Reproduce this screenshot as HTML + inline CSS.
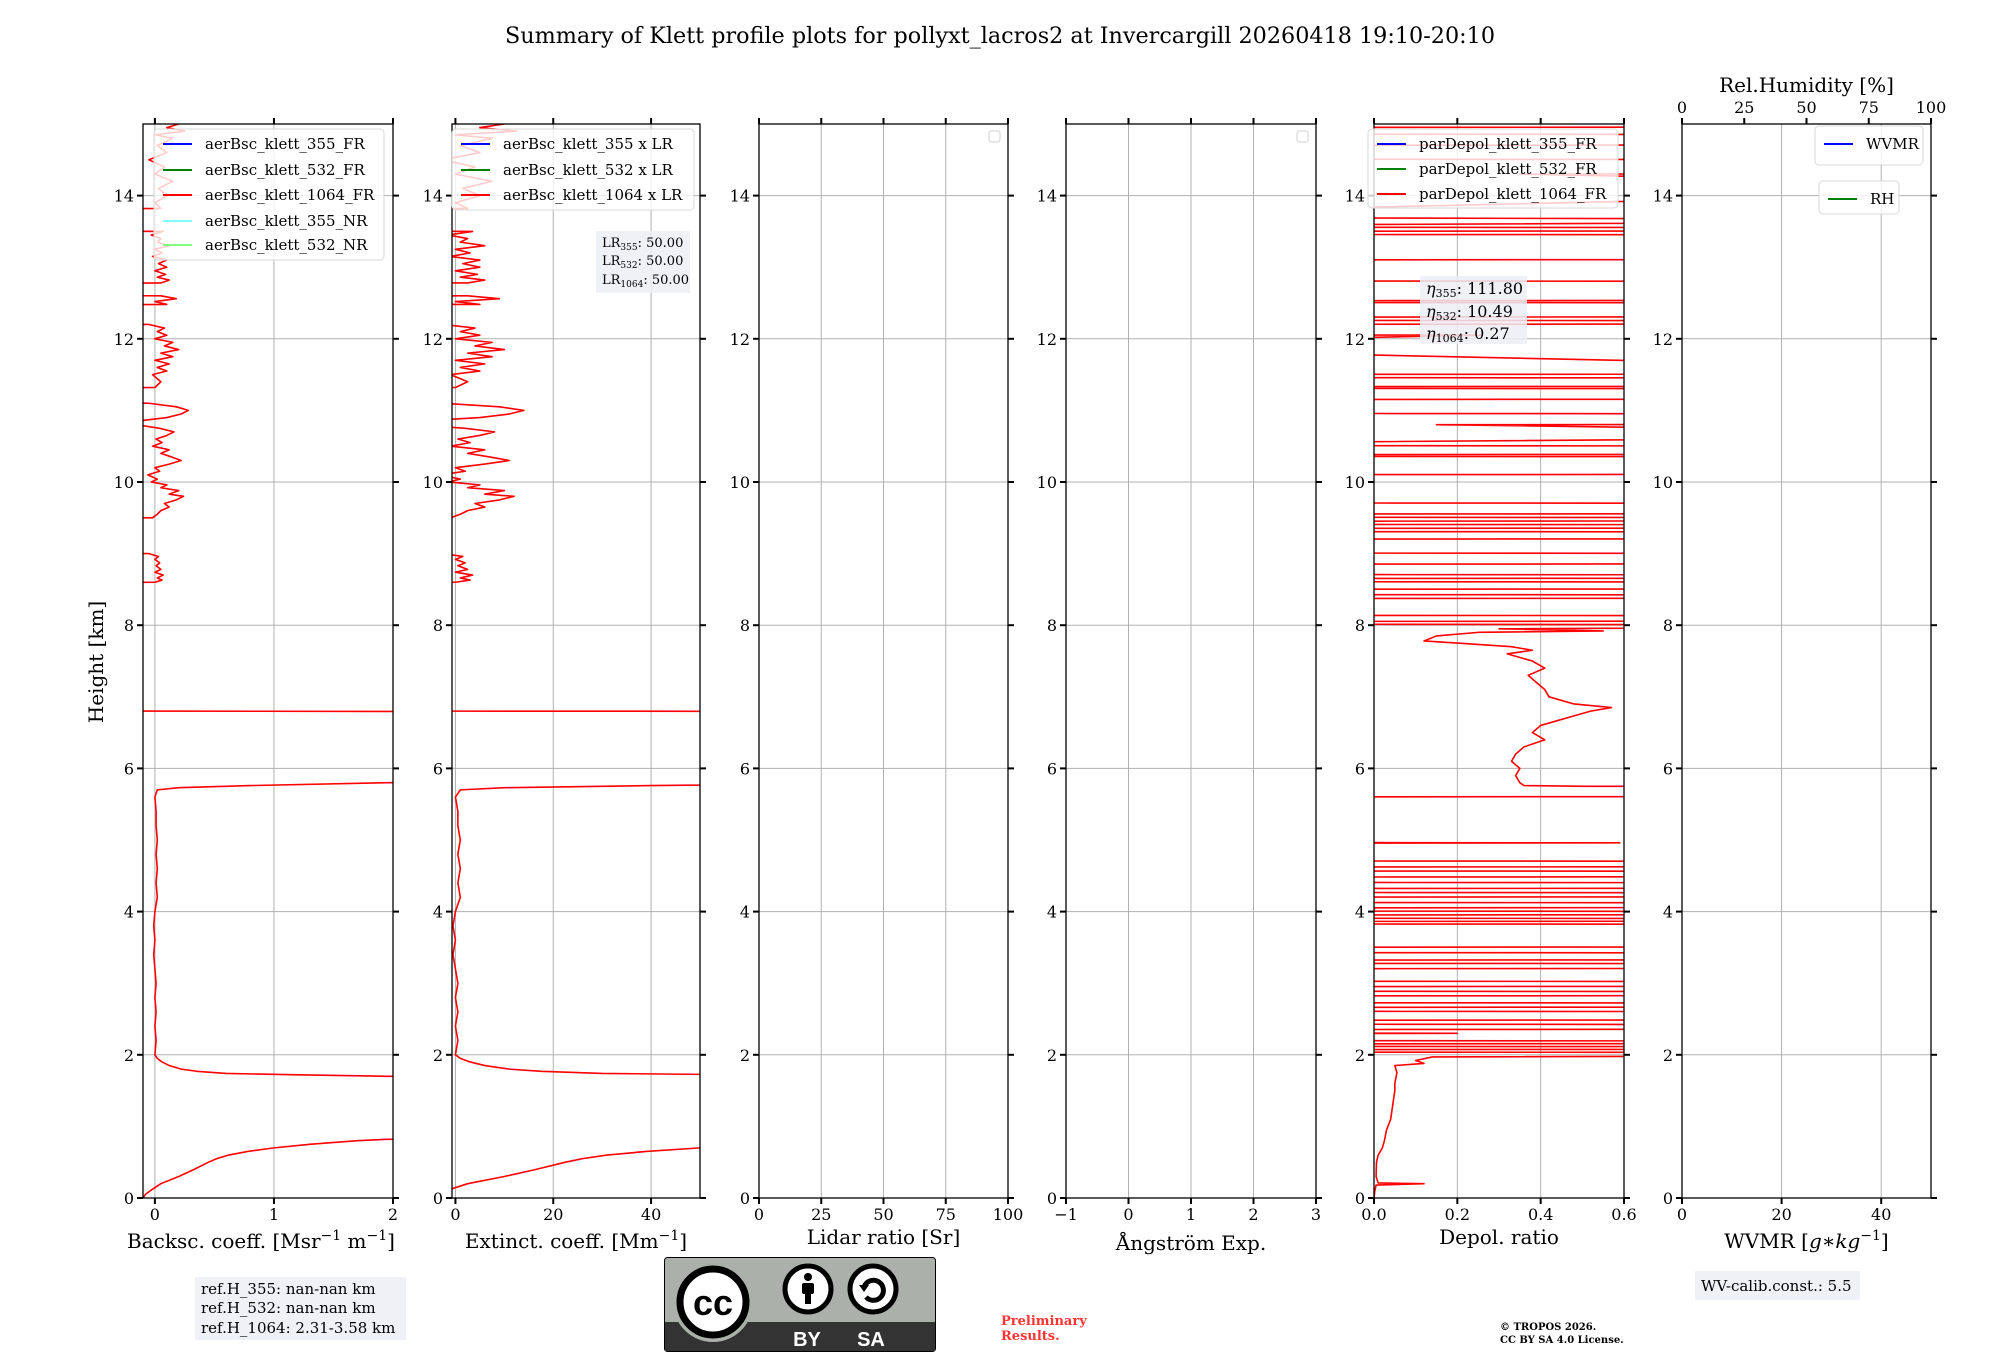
<!DOCTYPE html>
<html><head><meta charset="utf-8"><style>
html,body{margin:0;padding:0;background:#fff}
svg{display:block;font-family:"DejaVu Serif","Liberation Serif",serif}
</style></head><body>
<svg id="fig" width="2000" height="1360" viewBox="0 0 2000 1360" xmlns="http://www.w3.org/2000/svg">
<rect width="2000" height="1360" fill="#fff"/>
<text x="1000" y="43" font-size="22" text-anchor="middle" textLength="990" lengthAdjust="spacingAndGlyphs">Summary of Klett profile plots for pollyxt_lacros2 at Invercargill 20260418 19:10-20:10</text>
<text transform="translate(103,662) rotate(-90)" font-size="20" text-anchor="middle">Height [km]</text>
<g id="plots"></g>
<g id="overlay"></g>
</svg>
<script>
// ---- data ----
const yTicks=[0,2,4,6,8,10,12,14];
const bscHeights=[0,0.05,0.1,0.2,0.3,0.4,0.5,0.55,0.6,0.65,0.7,0.75,0.8,0.82,0.85,1.68,1.7,1.72,1.74,1.77,1.8,1.85,1.9,1.95,2.0,2.2,2.4,2.6,2.8,3.0,3.2,3.4,3.6,3.8,4.0,4.2,4.4,4.6,4.8,5.0,5.2,5.4,5.6,5.7,5.73,5.76,5.8,5.85,6.79,6.81,8.58,8.6,8.63,8.66,8.7,8.74,8.78,8.83,8.87,8.92,8.96,9.0,9.02,9.48,9.5,9.55,9.6,9.65,9.7,9.75,9.8,9.83,9.88,9.92,9.96,10.0,10.04,10.1,10.15,10.2,10.25,10.3,10.35,10.4,10.45,10.5,10.55,10.6,10.65,10.7,10.75,10.8,10.85,10.9,10.95,11.0,11.05,11.1,11.12,11.3,11.32,11.4,11.5,11.55,11.6,11.65,11.7,11.75,11.8,11.85,11.9,11.95,12.0,12.05,12.1,12.15,12.2,12.25,12.45,12.48,12.52,12.56,12.6,12.64,12.75,12.78,12.82,12.86,12.9,12.95,13.0,13.05,13.1,13.15,13.2,13.25,13.3,13.35,13.4,13.45,13.5,13.55,13.8,13.82,13.9,14.0,14.1,14.2,14.3,14.4,14.5,14.6,14.7,14.8,14.85,14.9,14.95,15.0];
const bsc1064=[-0.1,-0.08,-0.04,0.05,0.2,0.33,0.45,0.52,0.62,0.78,1.0,1.3,1.7,1.95,5,5,1.95,1.2,0.6,0.35,0.22,0.12,0.06,0.02,0.0,0.01,0.0,0.01,0.0,0.01,0.0,-0.01,0.0,-0.01,0.0,0.02,0.01,0.02,0.01,0.02,0.01,0.01,0.0,0.02,0.2,0.8,1.95,5,5,-5,-5,0.0,0.06,0.02,0.07,0.0,0.05,0.01,0.04,0.0,0.03,-0.05,-5,-5,-0.02,0.02,0.05,0.12,0.08,0.18,0.24,0.12,0.2,0.05,0.1,-0.03,0.02,-0.06,0.04,0.0,0.12,0.22,0.14,0.05,0.12,-0.02,0.06,0.01,0.1,0.16,0.04,-0.15,-0.15,0.1,0.22,0.28,0.18,-0.05,-5,-5,0.0,0.05,-0.02,0.1,0.02,0.12,0.0,0.15,0.05,0.2,0.08,0.15,0.0,0.1,0.02,0.08,-0.05,-5,-5,0.1,0.0,0.18,0.05,-5,-5,0.05,0.12,0.02,0.09,0.0,0.1,0.03,0.1,-0.02,0.06,0.0,0.12,0.02,0.05,-0.03,0.07,-5,-5,0.05,0.0,0.1,0.03,0.15,0.0,0.08,-0.05,0.1,0.02,0.15,0.0,0.25,0.1,0.2];
const lidarRatio=[50,50,50];
const depolHeights=[0,0.1,0.18,0.2,0.21,0.3,0.5,0.6,0.7,0.8,0.95,1.1,1.3,1.5,1.6,1.75,1.85,1.88,1.92,1.97,2.0,2.03,2.04,2.07,2.08,2.11,2.12,2.15,2.16,2.19,2.2,2.29,2.3,2.31,2.35,2.36,2.42,2.43,2.48,2.49,2.6,2.61,2.66,2.67,2.72,2.73,2.82,2.83,2.88,2.89,2.95,2.96,3.02,3.03,3.2,3.21,3.27,3.28,3.32,3.33,3.42,3.43,3.5,3.51,3.82,3.83,3.86,3.87,3.9,3.91,3.95,3.96,4.0,4.01,4.05,4.06,4.12,4.13,4.2,4.21,4.26,4.27,4.32,4.33,4.4,4.41,4.48,4.49,4.56,4.57,4.62,4.63,4.7,4.71,4.95,4.96,4.97,5.6,5.61,5.74,5.75,5.76,5.8,5.9,6.0,6.1,6.2,6.3,6.4,6.5,6.6,6.7,6.8,6.85,6.9,7.0,7.1,7.2,7.3,7.4,7.5,7.6,7.65,7.7,7.75,7.78,7.85,7.9,7.92,7.95,8.0,8.02,8.05,8.06,8.13,8.14,8.37,8.38,8.42,8.43,8.5,8.51,8.6,8.61,8.65,8.66,8.7,8.71,8.85,8.86,9.0,9.01,9.2,9.21,9.3,9.31,9.35,9.36,9.4,9.41,9.45,9.46,9.5,9.51,9.55,9.56,9.7,9.71,10.1,10.11,10.35,10.36,10.38,10.39,10.5,10.51,10.52,10.65,10.66,10.8,10.81,10.95,10.96,11.15,11.16,11.3,11.31,11.33,11.34,11.45,11.46,11.5,11.51,11.52,11.9,11.91,12.05,12.06,12.2,12.21,12.25,12.26,12.3,12.31,12.5,12.51,12.53,12.54,12.8,12.81,13.1,13.11,13.45,13.46,13.5,13.51,13.55,13.56,13.57,13.65,13.66,13.7,13.71,14.1,14.11,14.3,14.31,14.5,14.51,14.7,14.71,14.85,14.86,14.95,14.96,15.0];
const depol1064=[0,0.002,0.005,0.12,0.01,0.005,0.006,0.01,0.02,0.025,0.03,0.04,0.045,0.05,0.05,0.055,0.05,0.12,0.1,0.14,2,2,-1,-1,2,2,-1,-1,2,2,-1,-1,0.2,-1,-1,2,2,-1,-1,2,2,-1,-1,2,2,-1,-1,2,2,-1,-1,2,2,-1,-1,2,2,-1,-1,2,2,-1,-1,2,2,-1,-1,2,2,-1,-1,2,2,-1,-1,2,2,-1,-1,2,2,-1,-1,2,2,-1,-1,2,2,-1,-1,2,2,-1,-1,0.59,-1,-1,2,2,0.51,0.36,0.35,0.34,0.35,0.33,0.34,0.36,0.41,0.38,0.4,0.46,0.52,0.57,0.48,0.42,0.41,0.39,0.37,0.41,0.38,0.32,0.38,0.33,0.2,0.12,0.15,0.25,0.55,0.3,2,-1,-1,2,2,-1,-1,2,2,-1,-1,2,2,-1,-1,2,2,-1,-1,2,2,-1,-1,2,2,-1,-1,2,2,-1,-1,2,2,-1,-1,2,2,-1,-1,2,2,-1,-1,2,2,-1,-1,2,2,0.15,2,2,-1,-1,2,2,-1,-1,2,2,-1,-1,2,2,-1,-1,0.26,-1,-1,2,2,-1,-1,2,2,-1,-1,2,2,-1,-1,2,2,-1,-1,2,2,-1,-1,2,2,-1,-1,2,2,0.35,2,2,-1,-1,2,2,-1,-1,2,2,-1,-1,2,2,-1,-1,2,2];

// ---- layout ----
const TOP=124,BOT=1198,HMAX=15;
const NS="http://www.w3.org/2000/svg";
const plots=document.getElementById('plots');
const overlay=document.getElementById('overlay');
function el(tag,attrs,parent,txt){const e=document.createElementNS(NS,tag);for(const k in attrs)e.setAttribute(k,attrs[k]);if(txt!==undefined)e.textContent=txt;(parent||plots).appendChild(e);return e;}
function yPx(h){return BOT-(h/HMAX)*(BOT-TOP);}
const panels=[
 {id:'bsc',x0:143,x1:393,min:-0.1,max:2,ticks:[0,1,2],labels:['0','1','2'],xlabel:'Backsc. coeff.',ly:1248},
 {id:'ext',x0:452,x1:700,min:-0.7,max:50,ticks:[0,20,40],labels:['0','20','40'],xlabel:'Extinct. coeff.',ly:1248},
 {id:'lr',x0:759,x1:1008,min:0,max:100,ticks:[0,25,50,75,100],labels:['0','25','50','75','100'],xlabel:'Lidar ratio [Sr]',ly:1244},
 {id:'ang',x0:1066,x1:1316,min:-1,max:3,ticks:[-1,0,1,2,3],labels:['−1','0','1','2','3'],xlabel:'Ångström Exp.',ly:1250},
 {id:'depol',x0:1374,x1:1624,min:0,max:0.6,ticks:[0,0.2,0.4,0.6],labels:['0.0','0.2','0.4','0.6'],xlabel:'Depol. ratio',ly:1244},
 {id:'wv',x0:1682,x1:1931,min:0,max:50,ticks:[0,20,40],labels:['0','20','40'],xlabel:'WVMR',ly:1248}
];
function xPx(p,v){return p.x0+(v-p.min)/(p.max-p.min)*(p.x1-p.x0);}

panels.forEach((p,i)=>{
  const g=el('g',{});
  
  
  const cp=el('clipPath',{id:'clip'+i},g);
  el('rect',{x:p.x0,y:TOP,width:p.x1-p.x0,height:BOT-TOP},cp);
  p.ticks.forEach(t=>{const x=xPx(p,t);const l=el('line',{x1:x,x2:x,y1:TOP,y2:BOT,stroke:'#b0b0b0','stroke-width':1},g);});
  yTicks.forEach(t=>{const y=yPx(t);const l=el('line',{x1:p.x0,x2:p.x1,y1:y,y2:y,stroke:'#b0b0b0','stroke-width':1},g);});
  p.g=g;
});

function drawSeries(pi,hs,vs,name){
  const p=panels[pi];
  let d='';
  hs.forEach((h,k)=>{const v=Math.max(-1e3,Math.min(1e3,vs[k]));d+=(k?'L':'M')+xPx(p,v).toFixed(2)+','+yPx(h).toFixed(2);});
  const path=el('path',{d:d,fill:'none',stroke:'#ff0000','stroke-width':1.6,'stroke-linejoin':'round','clip-path':'url(#clip'+pi+')'},p.g);
  
  
}
drawSeries(0,bscHeights,bsc1064,'bsc-1064-fr-line');
const ext1064=bsc1064.map(v=>v*lidarRatio[2]);
drawSeries(1,bscHeights,ext1064,'ext-1064-line');
drawSeries(4,depolHeights,depol1064,'depol-1064-fr-line');

panels.forEach((p,i)=>{
  const g=p.g;
  const sp=el('rect',{x:p.x0,y:TOP,width:p.x1-p.x0,height:BOT-TOP,fill:'none',stroke:'#000','stroke-width':1.3},g);
  
  yTicks.forEach(t=>{const y=yPx(t);
    el('line',{x1:p.x0-6,x2:p.x0,y1:y,y2:y,stroke:'#000','stroke-width':2},g);
    el('line',{x1:p.x1,x2:p.x1+6,y1:y,y2:y,stroke:'#000','stroke-width':2},g);
    const tl=el('text',{x:p.x0-9,y:y+6,'font-size':16,'text-anchor':'end'},g,String(t));
    
  });
  p.ticks.forEach((t,k)=>{const x=xPx(p,t);
    el('line',{x1:x,x2:x,y1:BOT,y2:BOT+6,stroke:'#000','stroke-width':2},g);
    if(p.id!=='wv')el('line',{x1:x,x2:x,y1:TOP-6,y2:TOP,stroke:'#000','stroke-width':2},g);
    const tl=el('text',{x:x,y:BOT+22,'font-size':16,'text-anchor':'middle'},g,p.labels[k]);
    
  });
  const cx=(p.x0+p.x1)/2;
  let t;
  if(p.id==='bsc'){t=el('text',{x:cx-7,y:p.ly,'font-size':20,'text-anchor':'middle'},g);t.innerHTML='Backsc. coeff. [Msr<tspan dy="-8" font-size="14">−1</tspan><tspan dy="8"> m</tspan><tspan dy="-8" font-size="14">−1</tspan><tspan dy="8">]</tspan>';}
  else if(p.id==='ext'){t=el('text',{x:cx,y:p.ly,'font-size':20,'text-anchor':'middle'},g);t.innerHTML='Extinct. coeff. [Mm<tspan dy="-8" font-size="14">−1</tspan><tspan dy="8">]</tspan>';}
  else if(p.id==='wv'){t=el('text',{x:cx,y:p.ly,'font-size':20,'text-anchor':'middle'},g);t.innerHTML='WVMR [<tspan font-style="italic">g</tspan>∗<tspan font-style="italic">kg</tspan><tspan dy="-8" font-size="14">−1</tspan><tspan dy="8">]</tspan>';}
  else{t=el('text',{x:cx,y:p.ly,'font-size':20,'text-anchor':'middle'},g,p.xlabel);}
  
  
});
const rhTicks=[0,25,50,75,100];
const pw=panels[5];
rhTicks.forEach(t=>{const x=pw.x0+t/100*(pw.x1-pw.x0);
  el('line',{x1:x,x2:x,y1:TOP-6,y2:TOP,stroke:'#000','stroke-width':2},pw.g);
  const tl=el('text',{x:x,y:TOP-11,'font-size':16,'text-anchor':'middle'},pw.g,String(t));
  
});
const rht=el('text',{x:(pw.x0+pw.x1)/2,y:92,'font-size':20,'text-anchor':'middle'},pw.g,'Rel.Humidity [%]');


function legend(name,x,y,w,h,entries,fs){
  const g=el('g',{},overlay);
  
  
  el('rect',{x:x,y:y,width:w,height:h,rx:4,fill:'rgba(255,255,255,0.8)',stroke:'#d8d8d8','stroke-width':1},g);
  entries.forEach(e=>{
    el('line',{x1:x+9,x2:x+38,y1:e.y,y2:e.y,stroke:e.c,'stroke-width':2},g);
    const t=el('text',{x:x+51,y:e.y+5,'font-size':fs||15},g,e.t);
    
  });
}
legend('bsc-legend',154,129,230,131,[{y:144,c:'#0000ff',t:'aerBsc_klett_355_FR'},{y:170,c:'#008000',t:'aerBsc_klett_532_FR'},{y:195,c:'#ff0000',t:'aerBsc_klett_1064_FR'},{y:221,c:'#80ffff',t:'aerBsc_klett_355_NR'},{y:245,c:'#80ff80',t:'aerBsc_klett_532_NR'}]);
legend('ext-legend',452,129,242,81,[{y:144,c:'#0000ff',t:'aerBsc_klett_355 x LR'},{y:170,c:'#008000',t:'aerBsc_klett_532 x LR'},{y:195,c:'#ff0000',t:'aerBsc_klett_1064 x LR'}]);
legend('depol-legend',1368,129,250,79,[{y:144,c:'#0000ff',t:'parDepol_klett_355_FR'},{y:169,c:'#008000',t:'parDepol_klett_532_FR'},{y:194,c:'#ff0000',t:'parDepol_klett_1064_FR'}]);
legend('wvmr-legend',1815,126,108,39,[{y:144,c:'#0000ff',t:'WVMR'}]);
legend('rh-legend',1819,181,80,33,[{y:199,c:'#008000',t:'RH'}]);
[989,1297].forEach(x=>{const r=el('rect',{x:x,y:131,width:11,height:11,rx:2,fill:'#fff',stroke:'#d0d0d0'},overlay);});

function box(name,x,y,w,h,lines,fs){
  const g=el('g',{},overlay);
  
  
  el('rect',{x:x,y:y,width:w,height:h,fill:'rgba(236,238,245,0.85)'},g);
  lines.forEach(l=>{const t=el('text',{x:x+6,y:l.y,'font-size':fs},g);t.innerHTML=l.t;});
}
box('lidar-ratio-box',596,231,94,62,[{y:247,t:'LR<tspan font-size="9" dy="3">355</tspan><tspan dy="-3">: 50.00</tspan>'},{y:265,t:'LR<tspan font-size="9" dy="3">532</tspan><tspan dy="-3">: 50.00</tspan>'},{y:284,t:'LR<tspan font-size="9" dy="3">1064</tspan><tspan dy="-3">: 50.00</tspan>'}],13);
box('eta-box',1420,276,107,68,[{y:294,t:'<tspan font-style="italic">η</tspan><tspan font-size="11" dy="3">355</tspan><tspan dy="-3">: 111.80</tspan>'},{y:317,t:'<tspan font-style="italic">η</tspan><tspan font-size="11" dy="3">532</tspan><tspan dy="-3">: 10.49</tspan>'},{y:339,t:'<tspan font-style="italic">η</tspan><tspan font-size="11" dy="3">1064</tspan><tspan dy="-3">: 0.27</tspan>'}],16);
box('reference-height-box',195,1277,211,63,[{y:1294,t:'ref.H_355: nan-nan km'},{y:1313,t:'ref.H_532: nan-nan km'},{y:1333,t:'ref.H_1064: 2.31-3.58 km'}],15);
box('wv-calib-box',1695,1271,165,29,[{y:1291,t:'WV-calib.const.: 5.5'}],15);
</script>
<svg style="position:absolute;left:664px;top:1257px" width="272" height="95" viewBox="0 0 272 95">
<rect x="0.5" y="0.5" width="271" height="94" rx="3" fill="#abb1aa" stroke="#000" stroke-width="1"/>
<rect x="1" y="65" width="270" height="29" fill="#333"/>
<circle cx="49" cy="45" r="40" fill="#abb1aa"/>
<circle cx="49" cy="45" r="33" fill="#fff" stroke="#000" stroke-width="7"/>
<text x="49" y="58" font-family="Liberation Sans,sans-serif" font-weight="bold" font-size="36" text-anchor="middle" fill="#000">cc</text>
<circle cx="144" cy="32" r="23" fill="#fff" stroke="#000" stroke-width="5"/>
<circle cx="144" cy="20" r="4" fill="#000"/>
<rect x="138" y="26" width="12" height="11" rx="2" fill="#000"/><rect x="141" y="35" width="6" height="12" fill="#000"/>
<circle cx="209" cy="32" r="23" fill="#fff" stroke="#000" stroke-width="5"/>
<path d="M200 30 A10 10 0 1 1 202 40" fill="none" stroke="#000" stroke-width="5"/>
<path d="M195 28 L205 28 L200 35 Z" fill="#000"/>
<text x="143" y="89" font-family="Liberation Sans,sans-serif" font-weight="bold" font-size="20" text-anchor="middle" fill="#fff">BY</text>
<text x="207" y="89" font-family="Liberation Sans,sans-serif" font-weight="bold" font-size="20" text-anchor="middle" fill="#fff">SA</text>
</svg>
<div style="position:absolute;left:1001px;top:1314px;font:bold 13px 'DejaVu Serif',serif;color:#ff3333;line-height:15px">Preliminary<br>Results.</div>
<div style="position:absolute;left:1500px;top:1321px;font:bold 10px 'DejaVu Serif',serif;color:#000;line-height:13px">© TROPOS 2026.<br>CC BY SA 4.0 License.</div>
</body></html>
